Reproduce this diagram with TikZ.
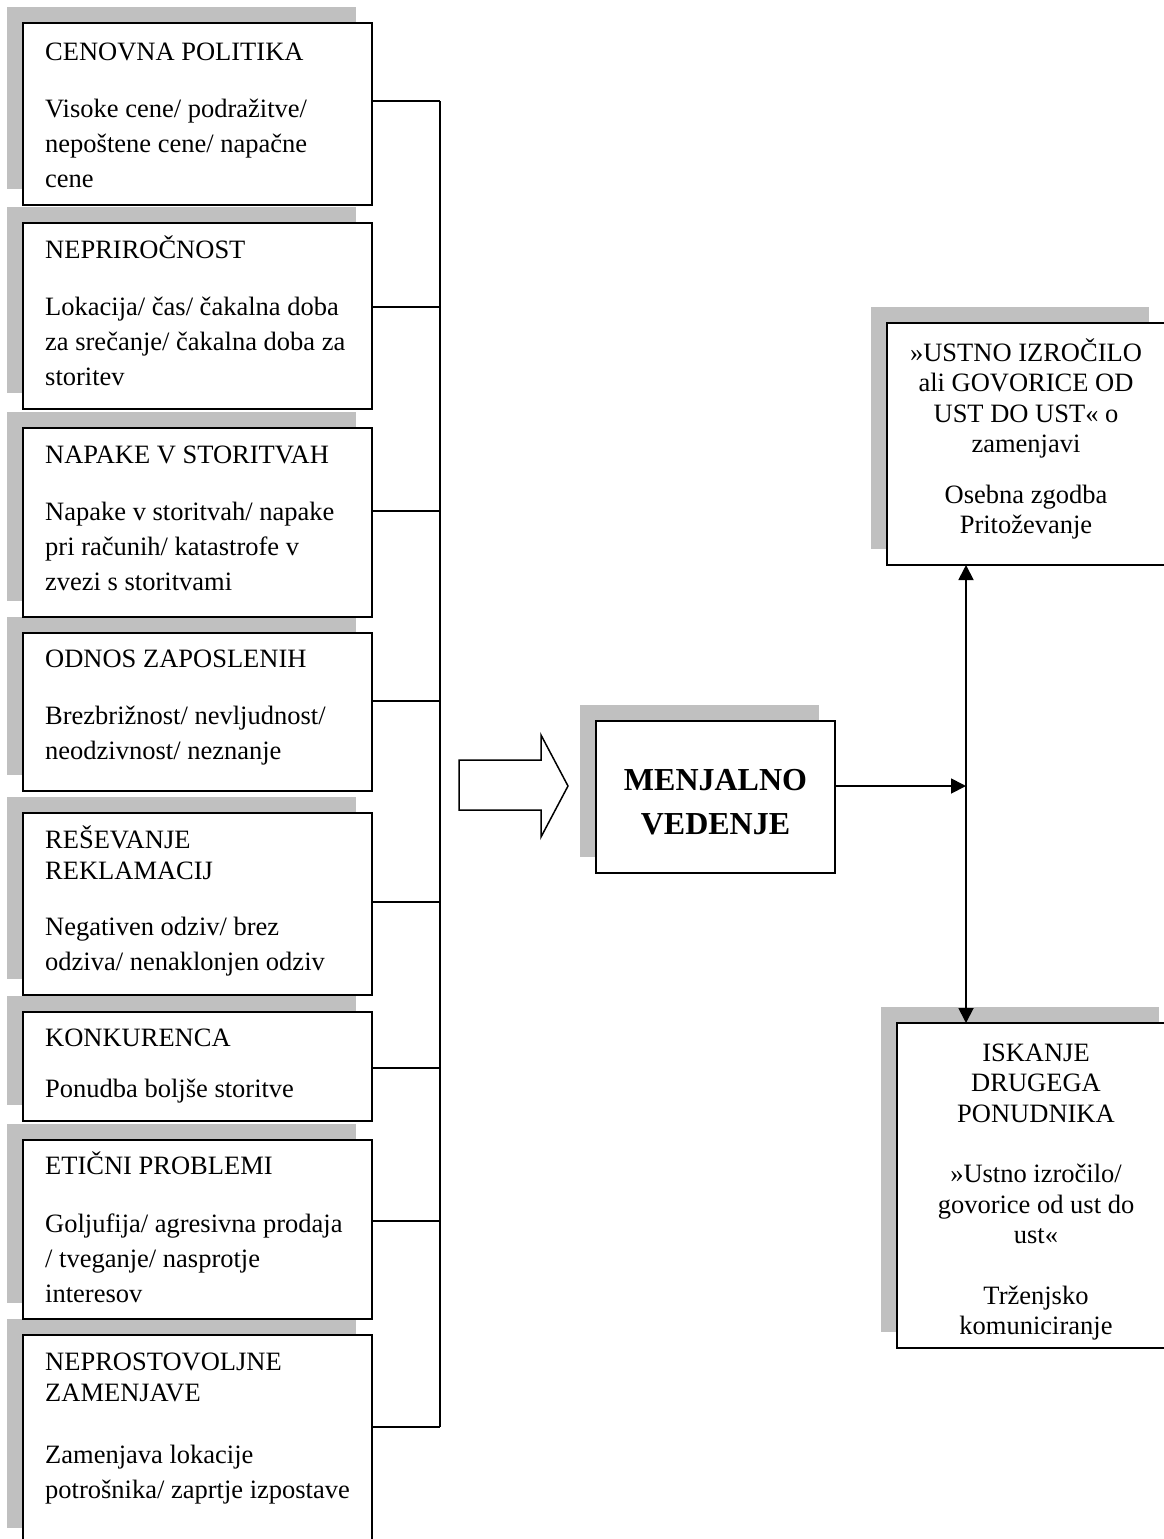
\documentclass[tikz,border=0pt]{standalone}
\usepackage{fontspec}
\setmainfont{Liberation Serif}
\usetikzlibrary{arrows.meta,backgrounds}
\definecolor{shadowgray}{HTML}{C0C0C0}
\tikzset{
  box/.style={draw=black, line width=1.8pt, fill=white, anchor=north west, inner sep=0pt, outer sep=0pt},
  conn/.style={line width=1.8pt},
  tipend/.style={-{Triangle[length=15pt,width=15pt]}},
  tipboth/.style={{Triangle[length=15pt,width=15pt]}-{Triangle[length=15pt,width=15pt]}},
  ttl/.style={anchor=base west, inner sep=0pt, font=\fontsize{26.5}{31}\selectfont},
  bdy/.style={anchor=base west, inner sep=0pt, font=\fontsize{26.5}{35}\selectfont},
  ctr/.style={anchor=base, inner sep=0pt, font=\fontsize{26.5}{30.5}\selectfont},
  big/.style={anchor=base, inner sep=0pt, font=\fontsize{32}{44}\selectfont\bfseries},
}
\newcommand{\lftlines}[1]{\begin{tabular}[t]{@{}l@{}}#1\end{tabular}}
\newcommand{\ctrlines}[1]{\begin{tabular}[t]{@{}c@{}}#1\end{tabular}}
\begin{document}
\begin{tikzpicture}[x=1pt,y=-1pt]
\useasboundingbox (0,0) rectangle (1163,1539);
% left boxes
\node[box, minimum width=349pt, minimum height=182pt] (b1) at (23,23) {};
\node[box, minimum width=349pt, minimum height=186pt] (b2) at (23,223) {};
\node[box, minimum width=349pt, minimum height=189pt] (b3) at (23,428) {};
\node[box, minimum width=349pt, minimum height=158pt] (b4) at (23,633) {};
\node[box, minimum width=349pt, minimum height=182pt] (b5) at (23,813) {};
\node[box, minimum width=349pt, minimum height=109pt] (b6) at (23,1012) {};
\node[box, minimum width=349pt, minimum height=179pt] (b7) at (23,1140) {};
\node[box, minimum width=349pt, minimum height=209pt] (b8) at (23,1335) {};
% texts
\node[ttl] (t1) at (45,60) {\lftlines{CENOVNA POLITIKA}};
\node[bdy] (d1) at (45,117) {\lftlines{Visoke cene/ podražitve/\\ nepoštene cene/ napačne\\ cene}};
\node[ttl] (t2) at (45,258) {\lftlines{NEPRIROČNOST}};
\node[bdy] (d2) at (45,315) {\lftlines{Lokacija/ čas/ čakalna doba\\ za srečanje/ čakalna doba za\\ storitev}};
\node[ttl] (t3) at (45,463) {\lftlines{NAPAKE V STORITVAH}};
\node[bdy] (d3) at (45,520) {\lftlines{Napake v storitvah/ napake\\ pri računih/ katastrofe v\\ zvezi s storitvami}};
\node[ttl] (t4) at (45,667) {\lftlines{ODNOS ZAPOSLENIH}};
\node[bdy] (d4) at (45,724) {\lftlines{Brezbrižnost/ nevljudnost/\\ neodzivnost/ neznanje}};
\node[ttl] (t5) at (45,848) {\lftlines{REŠEVANJE\\ REKLAMACIJ}};
\node[bdy] (d5) at (45,935) {\lftlines{Negativen odziv/ brez\\ odziva/ nenaklonjen odziv}};
\node[ttl] (t6) at (45,1046) {\lftlines{KONKURENCA}};
\node[bdy] (d6) at (45,1097) {\lftlines{Ponudba boljše storitve}};
\node[ttl] (t7) at (45,1174) {\lftlines{ETIČNI PROBLEMI}};
\node[bdy] (d7) at (45,1232) {\lftlines{Goljufija/ agresivna prodaja\\ / tveganje/ nasprotje\\ interesov}};
\node[ttl] (t8) at (45,1370) {\lftlines{NEPROSTOVOLJNE\\ ZAMENJAVE}};
\node[bdy] (d8) at (45,1463) {\lftlines{Zamenjava lokacije\\ potrošnika/ zaprtje izpostave}};
% bus
\coordinate (j1) at (440,101);
\coordinate (j2) at (440,307);
\coordinate (j3) at (440,511);
\coordinate (j4) at (440,701);
\coordinate (j5) at (440,902);
\coordinate (j6) at (440,1068);
\coordinate (j7) at (440,1221);
\coordinate (j8) at (440,1427);
\foreach \i in {1,...,8} {\draw[conn] (b\i.east |- j\i) -- (j\i);}
\draw[conn] (j1) -- (j8);
% hollow arrow
\draw[line width=1.5pt, fill=white] (459,760) -- (541,760) -- (541,735) -- (568,786) -- (541,837) -- (541,810) -- (459,810) -- cycle;
% central box
\node[box, minimum width=239pt, minimum height=152pt] (men) at (596,721) {};
\node[big] (mentext) at (715.5,790) {\ctrlines{MENJALNO\\ VEDENJE}};
% right boxes
\node[box, minimum width=278pt, minimum height=242pt] (tr) at (887,323) {};
\node[ctr] (trtext) at (1026,361) {\ctrlines{»USTNO IZROČILO\\ ali GOVORICE OD\\ UST DO UST« o\\ zamenjavi\\[20pt] Osebna zgodba\\ Pritoževanje}};
\node[box, minimum width=278pt, minimum height=325pt] (br) at (897,1023) {};
\node[ctr] (brtext) at (1036,1061) {\ctrlines{ISKANJE\\ DRUGEGA\\ PONUDNIKA\\[30pt] »Ustno izročilo/\\ govorice od ust do\\ ust«\\[30pt] Trženjsko\\ komuniciranje}};
% connectors right
\coordinate (jr) at (966,786);
\draw[conn, tipend] (men.east |- jr) -- (jr);
\draw[conn, tipboth] (tr.south -| jr) -- (br.north -| jr);
% shadows
\begin{scope}[on background layer]
\foreach \n in {b1,b2,b3,b4,b5,b6,b7,b8,men,tr,br} {
  \fill[shadowgray] ([shift={(-16pt,16pt)}]\n.north west) rectangle ([shift={(-16pt,16pt)}]\n.south east);
}
\end{scope}
\end{tikzpicture}
\end{document}
